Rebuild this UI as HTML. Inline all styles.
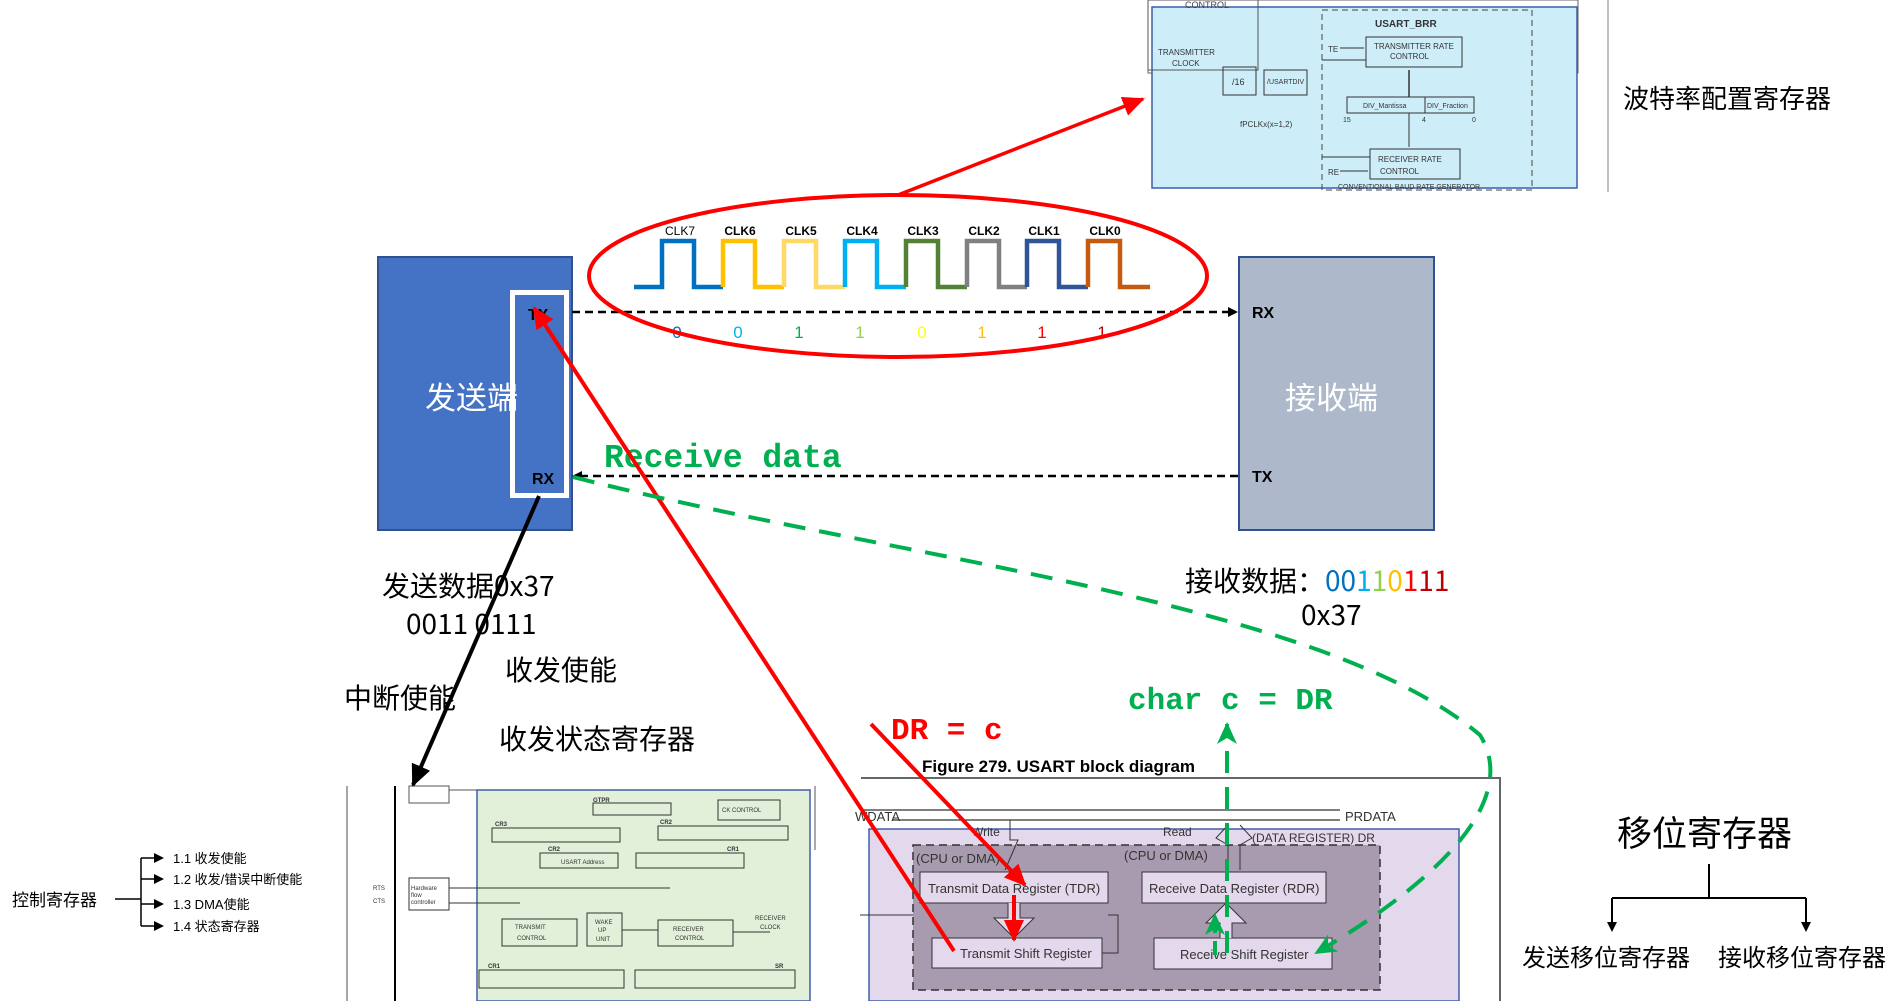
<!DOCTYPE html>
<html><head><meta charset="utf-8"><style>
html,body{margin:0;padding:0;background:#fff;}
svg{display:block;}
text{font-family:"Liberation Sans","Noto Sans CJK SC",sans-serif;}
.cn{font-family:"Noto Sans CJK SC","WenQuanYi Zen Hei",sans-serif;}
.mono{font-family:"Liberation Mono","Noto Sans CJK SC",monospace;}
</style></head><body>
<svg width="1895" height="1001" viewBox="0 0 1895 1001" xmlns="http://www.w3.org/2000/svg">
<defs>
<marker id="ab" markerWidth="10" markerHeight="10" refX="8" refY="5" orient="auto" markerUnits="userSpaceOnUse"><path d="M0,0 L10,5 L0,10z" fill="#000"/></marker>
<marker id="ar" markerWidth="24" markerHeight="20" refX="20" refY="10" orient="auto" markerUnits="userSpaceOnUse"><path d="M0,0 L22,10 L0,20z" fill="#f00"/></marker>
<marker id="ag" markerWidth="24" markerHeight="20" refX="20" refY="10" orient="auto" markerUnits="userSpaceOnUse"><path d="M0,0 L22,10 L0,20 L6,10z" fill="#00b050"/></marker>
<marker id="ak" markerWidth="24" markerHeight="20" refX="20" refY="10" orient="auto" markerUnits="userSpaceOnUse"><path d="M0,0 L22,10 L0,20z" fill="#000"/></marker>
</defs>

<!-- top right baud rate image -->
<rect x="1148" y="0" width="430" height="73" fill="#fff" stroke="#666" stroke-width="1"/>
<rect x="1152" y="7" width="425" height="181" fill="#cdeef9" stroke="#3f5fa8" stroke-width="1.5"/>
<rect x="1148" y="0" width="110" height="70" fill="none" stroke="#555"/>
<text x="1185" y="8" font-size="9" fill="#444">CONTROL</text>
<rect x="1322" y="10" width="210" height="180" fill="none" stroke="#444" stroke-dasharray="6,4"/>
<text x="1375" y="27" font-size="10" font-weight="bold" fill="#333">USART_BRR</text>
<rect x="1366" y="37" width="96" height="30" fill="none" stroke="#333"/>
<text x="1374" y="49" font-size="8" fill="#333">TRANSMITTER RATE</text><text x="1390" y="59" font-size="8" fill="#333">CONTROL</text>
<text x="1328" y="52" font-size="8" fill="#333">TE</text>
<line x1="1340" y1="48" x2="1364" y2="48" stroke="#333"/>
<text x="1158" y="55" font-size="8" fill="#333">TRANSMITTER</text><text x="1172" y="66" font-size="8" fill="#333">CLOCK</text>
<rect x="1223" y="67" width="33" height="28" fill="none" stroke="#333"/><text x="1232" y="85" font-size="9" fill="#333">/16</text>
<rect x="1264" y="70" width="43" height="25" fill="none" stroke="#333"/><text x="1267" y="84" font-size="7" fill="#333">/USARTDIV</text>
<rect x="1347" y="97" width="78" height="16" fill="none" stroke="#333"/><text x="1363" y="108" font-size="7" fill="#333">DIV_Mantissa</text>
<rect x="1425" y="97" width="49" height="16" fill="none" stroke="#333"/><text x="1427" y="108" font-size="7" fill="#333">DIV_Fraction</text>
<text x="1343" y="122" font-size="7" fill="#333">15</text><text x="1422" y="122" font-size="7" fill="#333">4</text><text x="1472" y="122" font-size="7" fill="#333">0</text>
<text x="1240" y="127" font-size="8" fill="#333">fPCLKx(x=1,2)</text>
<rect x="1370" y="149" width="90" height="30" fill="none" stroke="#333"/>
<text x="1378" y="162" font-size="8" fill="#333">RECEIVER RATE</text><text x="1380" y="174" font-size="8" fill="#333">CONTROL</text>
<text x="1328" y="175" font-size="8" fill="#333">RE</text>
<line x1="1340" y1="171" x2="1368" y2="171" stroke="#333"/>
<line x1="1322" y1="60" x2="1366" y2="60" stroke="#333"/><line x1="1322" y1="157" x2="1370" y2="157" stroke="#333"/>
<line x1="1409" y1="97" x2="1409" y2="70" stroke="#333" stroke-width="1.5"/><line x1="1409" y1="113" x2="1409" y2="147" stroke="#333"/>
<text x="1338" y="189" font-size="7" fill="#333">CONVENTIONAL BAUD RATE GENERATOR</text>
<line x1="1608" y1="0" x2="1608" y2="192" stroke="#aaa" stroke-width="1.5"/>
<text x="1623" y="108" font-size="26" class="cn" fill="#000">波特率配置寄存器</text>

<line x1="898" y1="195" x2="1143" y2="99" stroke="#f00" stroke-width="3.5" marker-end="url(#ar)"/>

<!-- send box -->
<rect x="378" y="257" width="194" height="273" fill="#4472c4" stroke="#2f528f" stroke-width="2"/>
<rect x="512.5" y="292.5" width="54" height="203" fill="none" stroke="#fff" stroke-width="5"/>
<text x="425" y="409" font-size="31" class="cn" fill="#fff">发送端</text>
<text x="528" y="320" font-size="16" font-weight="bold" fill="#000">TX</text>
<text x="532" y="484" font-size="16" font-weight="bold" fill="#000">RX</text>

<!-- receiver box -->
<rect x="1239" y="257" width="195" height="273" fill="#adb9ca" stroke="#2f528f" stroke-width="2"/>
<text x="1285" y="409" font-size="31" class="cn" fill="#fff">接收端</text>
<text x="1252" y="318" font-size="16" font-weight="bold" fill="#000">RX</text>
<text x="1252" y="482" font-size="16" font-weight="bold" fill="#000">TX</text>

<line x1="572" y1="312" x2="1236" y2="312" stroke="#000" stroke-width="2.5" stroke-dasharray="8,5" marker-end="url(#ab)"/>
<line x1="1238" y1="476" x2="574" y2="476" stroke="#000" stroke-width="2.5" stroke-dasharray="8,5" marker-end="url(#ab)"/>

<!-- clock waveform -->
<g fill="none" stroke-width="4.5">
<path d="M634,287 H662 V241 H694 V287 H723" stroke="#0070c0"/>
<path d="M723,287 V241 H755 V287 H784" stroke="#ffc000"/>
<path d="M784,287 V241 H816 V287 H845" stroke="#ffd966"/>
<path d="M845,287 V241 H877 V287 H906" stroke="#00b0f0"/>
<path d="M906,287 V241 H938 V287 H967" stroke="#548235"/>
<path d="M967,287 V241 H999 V287 H1027" stroke="#808080"/>
<path d="M1027,287 V241 H1059 V287 H1088" stroke="#2f5597"/>
<path d="M1088,287 V241 H1120 V287 H1150" stroke="#c55a11"/>
</g>
<g font-size="12" font-weight="bold" fill="#000" text-anchor="middle">
<text x="680" y="235" font-weight="normal">CLK7</text><text x="740" y="235">CLK6</text><text x="801" y="235">CLK5</text><text x="862" y="235">CLK4</text><text x="923" y="235">CLK3</text><text x="984" y="235">CLK2</text><text x="1044" y="235">CLK1</text><text x="1105" y="235">CLK0</text>
</g>
<g font-size="17" text-anchor="middle">
<text x="677" y="338" fill="#0070c0">0</text><text x="738" y="338" fill="#00b0f0">0</text><text x="799" y="338" fill="#00b050">1</text><text x="860" y="338" fill="#92d050">1</text><text x="922" y="338" fill="#ffff00">0</text><text x="982" y="338" fill="#ffc000">1</text><text x="1042" y="338" fill="#ff0000">1</text><text x="1102" y="338" fill="#c00000">1</text>
</g>
<ellipse cx="898" cy="276" rx="309" ry="81" fill="none" stroke="#f00" stroke-width="4"/>

<text x="604" y="467" font-size="33" font-weight="bold" class="mono" fill="#00b050">Receive data</text>

<text x="382" y="596" font-size="28" class="cn" fill="#000">发送数据0x37</text>
<text x="406" y="634" font-size="28" class="cn" fill="#000">0011 0111</text>
<text x="344" y="708" font-size="28" class="cn" fill="#000">中断使能</text>
<text x="505" y="680" font-size="28" class="cn" fill="#000">收发使能</text>
<text x="499" y="749" font-size="28" class="cn" fill="#000">收发状态寄存器</text>
<text x="1185" y="591" font-size="28" class="cn" fill="#000">接收数据：<tspan fill="#0070c0">00</tspan><tspan fill="#00b0f0">1</tspan><tspan fill="#92d050">1</tspan><tspan fill="#ffc000">0</tspan><tspan fill="#ff0000">1</tspan><tspan fill="#c00000">11</tspan></text>
<text x="1301" y="625" font-size="28" class="cn" fill="#000">0x37</text>
<text x="1128" y="709" font-size="31" font-weight="bold" class="mono" fill="#00b050">char c = DR</text>
<text x="891" y="739" font-size="31" font-weight="bold" class="mono" fill="#f00">DR = c</text>

<!-- left tree -->
<text x="12" y="906" font-size="17" class="cn" fill="#000">控制寄存器</text>
<g stroke="#000" stroke-width="1.5" fill="none">
<line x1="115" y1="899" x2="141" y2="899"/>
<path d="M141,858 V926"/>
<line x1="141" y1="858" x2="162" y2="858" marker-end="url(#ab)"/>
<line x1="141" y1="879" x2="162" y2="879" marker-end="url(#ab)"/>
<line x1="141" y1="904" x2="162" y2="904" marker-end="url(#ab)"/>
<line x1="141" y1="926" x2="162" y2="926" marker-end="url(#ab)"/>
</g>
<g font-size="13" class="cn" fill="#000">
<text x="173" y="863">1.1 收发使能</text><text x="173" y="884">1.2 收发/错误中断使能</text><text x="173" y="909">1.3 DMA使能</text><text x="173" y="931">1.4 状态寄存器</text>
</g>

<!-- CR block image -->
<line x1="347" y1="786" x2="347" y2="1001" stroke="#888" stroke-width="1.5"/>
<line x1="395" y1="786" x2="395" y2="1001" stroke="#000" stroke-width="2"/>
<rect x="409" y="786" width="40" height="17" fill="none" stroke="#555"/>
<line x1="449" y1="790" x2="626" y2="790" stroke="#555"/>
<rect x="477" y="790" width="333" height="211" fill="#e2f0d9" stroke="#3f5fa8" stroke-width="1.5"/>
<g fill="none" stroke="#333" stroke-width="1">
<rect x="593" y="803" width="78" height="12"/><rect x="718" y="800" width="62" height="20"/>
<rect x="492" y="828" width="128" height="14"/><rect x="658" y="826" width="130" height="14"/>
<rect x="540" y="853" width="78" height="15"/><rect x="636" y="853" width="108" height="15"/>
<rect x="409" y="878" width="40" height="32"/>
<rect x="502" y="919" width="75" height="27"/><rect x="587" y="913" width="35" height="33"/><rect x="658" y="920" width="75" height="26"/>
<rect x="479" y="970" width="145" height="18"/><rect x="635" y="970" width="160" height="18"/>
<line x1="449" y1="888" x2="670" y2="888"/><line x1="449" y1="903" x2="520" y2="903"/>
<line x1="622" y1="930" x2="658" y2="930"/><line x1="733" y1="932" x2="770" y2="932"/>
</g>
<g font-size="6" fill="#333">
<text x="593" y="802" font-weight="bold">GTPR</text><text x="495" y="826" font-weight="bold">CR3</text><text x="660" y="824" font-weight="bold">CR2</text><text x="548" y="851" font-weight="bold">CR2</text><text x="727" y="851" font-weight="bold">CR1</text>
<text x="722" y="812">CK CONTROL</text><text x="561" y="864">USART Address</text>
<text x="373" y="890">RTS</text><text x="373" y="903">CTS</text><text x="411" y="890">Hardware</text><text x="411" y="897">flow</text><text x="411" y="904">controller</text>
<text x="515" y="929">TRANSMIT</text><text x="517" y="940">CONTROL</text><text x="595" y="924">WAKE</text><text x="598" y="932">UP</text><text x="596" y="941">UNIT</text>
<text x="673" y="931">RECEIVER</text><text x="675" y="940">CONTROL</text><text x="755" y="920">RECEIVER</text><text x="760" y="929">CLOCK</text>
<text x="488" y="968" font-weight="bold">CR1</text><text x="775" y="968" font-weight="bold">SR</text>
</g>
<line x1="815" y1="786" x2="815" y2="850" stroke="#555"/>

<!-- USART block diagram -->
<text x="922" y="772" font-size="17" font-weight="bold" fill="#000">Figure 279. USART block diagram</text>
<path d="M861,778 H1500 V1001" fill="none" stroke="#666" stroke-width="2"/>
<rect x="869" y="829" width="590" height="172" fill="#e4d8ec" stroke="#3f5fa8" stroke-width="1.5"/>
<rect x="913" y="845" width="467" height="145" fill="#a89bb0" stroke="#333" stroke-dasharray="8,5" stroke-width="1.5"/>
<g stroke="#333" fill="none" stroke-width="1.2">
<line x1="860" y1="810" x2="1340" y2="810"/><line x1="892" y1="820" x2="1340" y2="820"/>
</g>
<text x="855" y="821" font-size="13" fill="#333">WDATA</text><text x="1345" y="821" font-size="13" fill="#333">PRDATA</text>
<text x="972" y="836" font-size="12" fill="#333">Write</text><text x="1163" y="836" font-size="12" fill="#333">Read</text>
<text x="1252" y="842" font-size="12" fill="#333">(DATA REGISTER) DR</text>
<text x="916" y="863" font-size="13" fill="#333">(CPU or DMA)</text><text x="1124" y="860" font-size="13" fill="#333">(CPU or DMA)</text>
<path d="M1010,820 V840 H1018 L1005,870" fill="none" stroke="#333"/>
<path d="M1228,870 V845 L1216,838 L1228,825 M1240,825 L1252,838 L1240,845 V870" fill="none" stroke="#333"/>
<rect x="920" y="872" width="188" height="31" fill="#e4d8ec" stroke="#333"/>
<text x="928" y="893" font-size="13" fill="#333">Transmit Data Register (TDR)</text>
<rect x="1142" y="872" width="184" height="31" fill="#e4d8ec" stroke="#333"/>
<text x="1149" y="893" font-size="13" fill="#333">Receive Data Register (RDR)</text>
<rect x="932" y="938" width="170" height="30" fill="#e4d8ec" stroke="#333"/>
<text x="960" y="958" font-size="13" fill="#333">Transmit Shift Register</text>
<rect x="1154" y="938" width="178" height="31" fill="#e4d8ec" stroke="#333"/>
<text x="1180" y="959" font-size="13" fill="#333">Receive Shift Register</text>
<path d="M1008,903 V918 H994 L1014,938 L1034,918 H1020 V903" fill="#e4d8ec" stroke="#333"/>
<path d="M1220,938 V923 H1206 L1226,903 L1246,923 H1232 V938" fill="#e4d8ec" stroke="#333"/>
<path d="M1102,953 H1118 V915 H1108" fill="none" stroke="#333"/>
<path d="M860,915 H913" fill="none" stroke="#333"/>

<!-- right tree -->
<text x="1617" y="846" font-size="35" class="cn" fill="#000">移位寄存器</text>
<g stroke="#000" stroke-width="2" fill="none">
<line x1="1709" y1="864" x2="1709" y2="898"/><line x1="1612" y1="898" x2="1806" y2="898"/>
<line x1="1612" y1="898" x2="1612" y2="930" marker-end="url(#ab)"/><line x1="1806" y1="898" x2="1806" y2="930" marker-end="url(#ab)"/>
</g>
<text x="1522" y="966" font-size="24" class="cn" fill="#000">发送移位寄存器</text>
<text x="1718" y="966" font-size="24" class="cn" fill="#000">接收移位寄存器</text>

<!-- overlays -->
<line x1="539" y1="496" x2="413" y2="785" stroke="#000" stroke-width="4" marker-end="url(#ak)"/>
<line x1="954" y1="951" x2="534" y2="308" stroke="#f00" stroke-width="4" marker-end="url(#ar)"/>
<line x1="871" y1="724" x2="1025" y2="885" stroke="#f00" stroke-width="4" marker-end="url(#ar)"/>
<line x1="1014" y1="895" x2="1014" y2="940" stroke="#f00" stroke-width="4" marker-end="url(#ar)"/>
<path d="M573,477 C900,560 1320,600 1480,735 C1520,800 1440,880 1316,953" fill="none" stroke="#00b050" stroke-width="4" stroke-dasharray="22,14" marker-end="url(#ag)"/>
<line x1="1227" y1="953" x2="1227" y2="724" stroke="#00b050" stroke-width="4" stroke-dasharray="22,14" marker-end="url(#ag)"/>
<line x1="1215" y1="955" x2="1215" y2="915" stroke="#00b050" stroke-width="4" stroke-dasharray="14,8" marker-end="url(#ag)"/>
</svg>
</body></html>
